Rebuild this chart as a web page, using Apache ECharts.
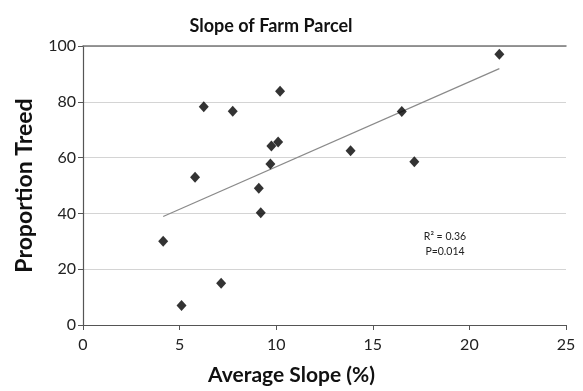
<!DOCTYPE html>
<html><head><meta charset="utf-8">
<script src="https://cdn.jsdelivr.net/npm/echarts@6/dist/echarts.min.js"></script>
<style>html,body{margin:0;padding:0;background:#fff}#c{width:583px;height:391px}</style>
</head><body><div id="c"></div>
<script>
var slopeX = [4.15, 5.1, 5.8, 6.25, 7.15, 7.75, 9.1, 9.2, 9.7, 9.75, 10.1, 10.2, 13.85, 16.5, 17.15, 21.55];
var treedY = [30, 7, 53, 78.2, 15, 76.6, 49, 40.2, 57.7, 64.2, 65.6, 83.8, 62.5, 76.5, 58.5, 97];
var trendX = [4.15, 21.55];
var trendY = [38.9, 91.9];
var xTicks = [0, 5, 10, 15, 20, 25];
var yTicks = [0, 20, 40, 60, 80, 100];
var titleText = 'Slope of Farm Parcel';
var xName = 'Average Slope (%)';
var yName = 'Proportion Treed';
var statText = ['R² = 0.36', 'P=0.014'];

var font = 'Lato, "Open Sans", sans-serif';
var chart = echarts.init(document.getElementById('c'));
chart.setOption({
  animation: false,
  title: {text: titleText, left: 266, top: 12, textAlign: 'center',
    textStyle: {fontFamily: font, fontSize: 18, fontWeight: 'bold', color: '#111'}},
  grid: {left: 83, right: 17, top: 46, bottom: 64},
  xAxis: [{
    type: 'value', min: xTicks[0], max: xTicks[xTicks.length-1], interval: 5,
    axisLine: {lineStyle: {color: '#555', width: 1.2}},
    axisTick: {show: true, length: 5, lineStyle: {color: '#555'}},
    axisLabel: {fontFamily: font, fontSize: 16, color: '#222', margin: 12},
    splitLine: {show: false},
    name: xName, nameLocation: 'middle', nameGap: 40,
    nameTextStyle: {fontFamily: font, fontSize: 21, fontWeight: 'bold', color: '#111', padding: [0, 66, 0, 0]}
  }, {
    type: 'value', position: 'top', min: 0, max: 25,
    axisLine: {show: true, lineStyle: {color: '#777', width: 1.5}},
    axisTick: {show: false}, axisLabel: {show: false}, splitLine: {show: false}
  }],
  yAxis: {
    type: 'value', min: yTicks[0], max: yTicks[yTicks.length-1], interval: 20,
    axisLine: {show: true, lineStyle: {color: '#555', width: 1.2}},
    axisTick: {show: true, length: 5, lineStyle: {color: '#555'}},
    axisLabel: {fontFamily: font, fontSize: 16, color: '#222', margin: 7},
    splitLine: {show: true, lineStyle: {color: '#d4d4d4', width: 1}},
    name: yName, nameLocation: 'middle', nameGap: 47, nameRotate: 90,
    nameTextStyle: {fontFamily: font, fontSize: 23, fontWeight: 'bold', color: '#111'}
  },
  series: [{
    type: 'line', data: trendX.map(function(x, i){return [x, trendY[i]];}),
    symbol: 'none', lineStyle: {color: '#8a8a8a', width: 1.2}, z: 2
  }, {
    type: 'scatter', data: slopeX.map(function(x, i){return [x, treedY[i]];}),
    symbol: 'diamond', symbolSize: [10, 11], itemStyle: {color: '#000'}, z: 3
  }],
  graphic: [{
    type: 'text', x: 445, y: 229,
    style: {text: statText.join('\n'), fontFamily: font, fontSize: 10.5, lineHeight: 15, fill: '#222', align: 'center'}
  }]
});
</script></body></html>
